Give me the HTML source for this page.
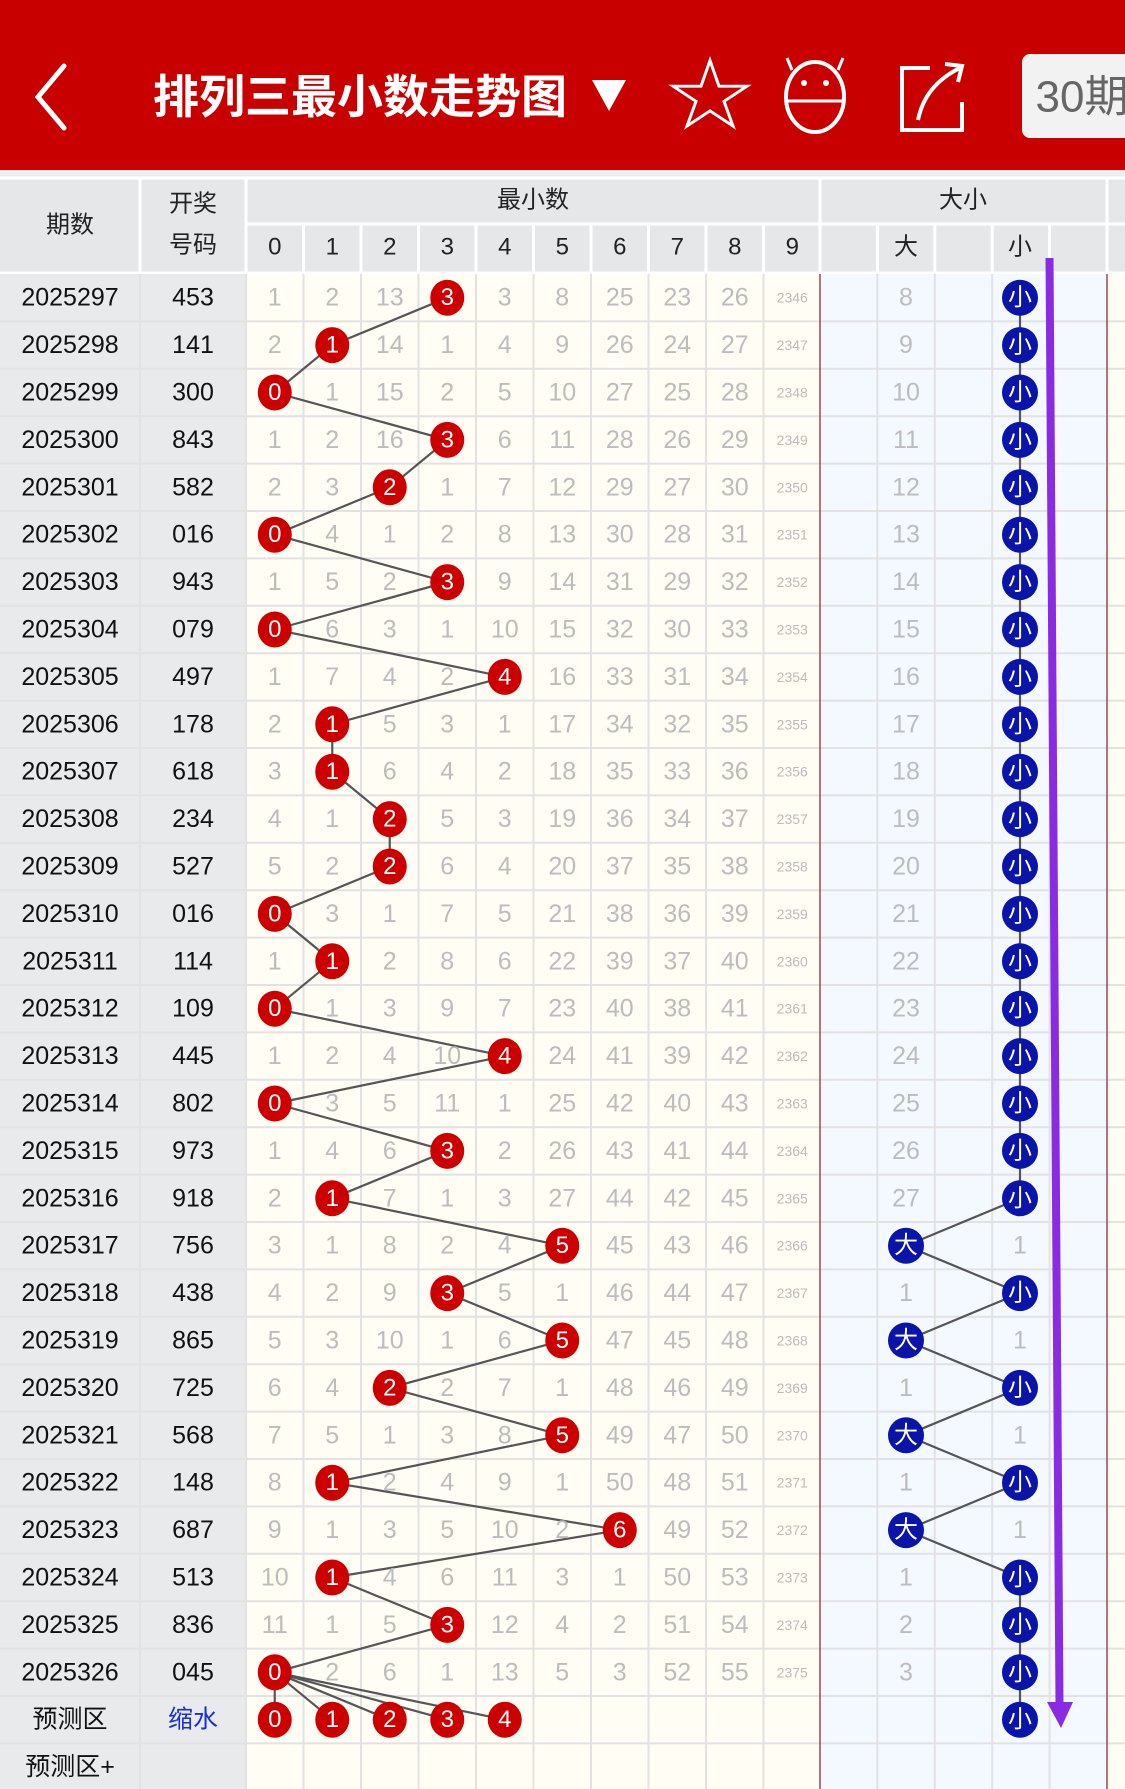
<!DOCTYPE html>
<html><head><meta charset="utf-8"><style>
html,body{margin:0;padding:0;width:1125px;height:1789px;overflow:hidden;background:#fff}
svg{display:block}
text{font-family:"Liberation Sans","Noto Sans CJK SC",sans-serif;dominant-baseline:central;text-anchor:middle}
.g{fill:#bcbcbc;font-size:25px}
.s{fill:#bcbcbc;font-size:14px}
.k{fill:#111;font-size:25px}
.w{fill:#fff;font-size:24px}
.h{fill:#222;font-size:24px}
</style></head><body>
<svg width="1125" height="1789" viewBox="0 0 1125 1789">
<rect x="0" y="0" width="1125" height="170" fill="#c80000"/>
<rect x="0" y="170" width="1125" height="8" fill="#eceded"/>
<!-- header icons -->
<polyline points="64,66 38,97 64,128" fill="none" stroke="#fff" stroke-width="5" stroke-linecap="round"/>
<text x="360" y="97" style="fill:#fff;font-size:46px;font-weight:bold;font-family:'Liberation Sans','Noto Sans CJK SC',sans-serif">排列三最小数走势图</text>
<polygon points="592,80 626,80 609,111" fill="#fff"/>
<polygon points="710,70 719,97 747,97 724,113 733,139 710,123 687,139 696,113 673,97 701,97" fill="none" stroke="#fff" stroke-width="3" transform="translate(0,-6) scale(1,0.95)"/>
<ellipse cx="815" cy="97" rx="29" ry="35" fill="none" stroke="#fff" stroke-width="4"/>
<line x1="787" y1="101" x2="843" y2="101" stroke="#fff" stroke-width="3"/>
<circle cx="804" cy="83" r="3" fill="#fff"/><circle cx="826" cy="83" r="3" fill="#fff"/>
<line x1="792" y1="70" x2="787" y2="58" stroke="#fff" stroke-width="3"/><line x1="838" y1="70" x2="843" y2="58" stroke="#fff" stroke-width="3"/>
<path d="M930,68 L902,68 L902,130 L962,130 L962,102" fill="none" stroke="#fff" stroke-width="4"/>
<path d="M918,120 Q925,85 960,68 M945,64 L962,66 L958,82" fill="none" stroke="#fff" stroke-width="4"/>
<rect x="1022" y="54" width="120" height="84" rx="8" fill="#f2f2f2"/>
<text x="1082" y="97" style="fill:#666;font-size:44px">30期</text>
<!-- table header -->
<rect x="0" y="178" width="1125" height="96" fill="#e6e7e9"/>
<g stroke="#fff" stroke-width="3">
<line x1="0" y1="178" x2="1125" y2="178"/>
<line x1="246" y1="224" x2="1125" y2="224"/>
<line x1="0" y1="273" x2="1125" y2="273"/>
<line x1="140" y1="178" x2="140" y2="273"/><line x1="246" y1="178" x2="246" y2="273"/>
<line x1="820" y1="178" x2="820" y2="273"/><line x1="1107" y1="178" x2="1107" y2="273"/>
<line x1="303.5" y1="224" x2="303.5" y2="273"/><line x1="361" y1="224" x2="361" y2="273"/><line x1="418.5" y1="224" x2="418.5" y2="273"/><line x1="476" y1="224" x2="476" y2="273"/><line x1="533.5" y1="224" x2="533.5" y2="273"/><line x1="591" y1="224" x2="591" y2="273"/><line x1="648.5" y1="224" x2="648.5" y2="273"/><line x1="706" y1="224" x2="706" y2="273"/><line x1="763.5" y1="224" x2="763.5" y2="273"/>
<line x1="877.4" y1="224" x2="877.4" y2="273"/><line x1="934.8" y1="224" x2="934.8" y2="273"/><line x1="992.2" y1="224" x2="992.2" y2="273"/><line x1="1049.6" y1="224" x2="1049.6" y2="273"/>
</g>
<text class="h" x="70" y="225">期数</text>
<text class="h" x="193" y="204">开奖</text>
<text class="h" x="193" y="245">号码</text>
<text class="h" x="533" y="200">最小数</text>
<text class="h" x="963" y="200">大小</text>
<g class="h"><text class="h" x="274.75" y="247">0</text><text class="h" x="332.25" y="247">1</text><text class="h" x="389.75" y="247">2</text><text class="h" x="447.25" y="247">3</text><text class="h" x="504.75" y="247">4</text><text class="h" x="562.25" y="247">5</text><text class="h" x="619.75" y="247">6</text><text class="h" x="677.25" y="247">7</text><text class="h" x="734.75" y="247">8</text><text class="h" x="792.25" y="247">9</text><text class="h" x="906" y="247">大</text><text class="h" x="1020" y="247">小</text></g>
<!-- body backgrounds -->
<rect x="0" y="274" width="246" height="1515" fill="#e9eaec"/>
<rect x="246" y="274" width="574" height="1515" fill="#fffdf4"/>
<rect x="820" y="274" width="287" height="1515" fill="#f4f9ff"/>
<rect x="1107" y="274" width="18" height="1515" fill="#fffdf4"/>
<g stroke="#e2e2e2" stroke-width="2">
<line x1="140" y1="274" x2="140" y2="1789"/><line x1="246" y1="274" x2="246" y2="1789"/>
<line x1="303.5" y1="274" x2="303.5" y2="1789"/><line x1="361" y1="274" x2="361" y2="1789"/><line x1="418.5" y1="274" x2="418.5" y2="1789"/><line x1="476" y1="274" x2="476" y2="1789"/><line x1="533.5" y1="274" x2="533.5" y2="1789"/><line x1="591" y1="274" x2="591" y2="1789"/><line x1="648.5" y1="274" x2="648.5" y2="1789"/><line x1="706" y1="274" x2="706" y2="1789"/><line x1="763.5" y1="274" x2="763.5" y2="1789"/>
<line x1="877.4" y1="274" x2="877.4" y2="1789"/><line x1="934.8" y1="274" x2="934.8" y2="1789"/><line x1="992.2" y1="274" x2="992.2" y2="1789"/><line x1="1049.6" y1="274" x2="1049.6" y2="1789"/>
<line x1="0" y1="321.4" x2="1125" y2="321.4"/><line x1="0" y1="368.8" x2="1125" y2="368.8"/><line x1="0" y1="416.2" x2="1125" y2="416.2"/><line x1="0" y1="463.6" x2="1125" y2="463.6"/><line x1="0" y1="511" x2="1125" y2="511"/><line x1="0" y1="558.4" x2="1125" y2="558.4"/><line x1="0" y1="605.8" x2="1125" y2="605.8"/><line x1="0" y1="653.2" x2="1125" y2="653.2"/><line x1="0" y1="700.6" x2="1125" y2="700.6"/><line x1="0" y1="748" x2="1125" y2="748"/><line x1="0" y1="795.4" x2="1125" y2="795.4"/><line x1="0" y1="842.8" x2="1125" y2="842.8"/><line x1="0" y1="890.2" x2="1125" y2="890.2"/><line x1="0" y1="937.6" x2="1125" y2="937.6"/><line x1="0" y1="985" x2="1125" y2="985"/><line x1="0" y1="1032.4" x2="1125" y2="1032.4"/><line x1="0" y1="1079.8" x2="1125" y2="1079.8"/><line x1="0" y1="1127.2" x2="1125" y2="1127.2"/><line x1="0" y1="1174.6" x2="1125" y2="1174.6"/><line x1="0" y1="1222" x2="1125" y2="1222"/><line x1="0" y1="1269.4" x2="1125" y2="1269.4"/><line x1="0" y1="1316.8" x2="1125" y2="1316.8"/><line x1="0" y1="1364.2" x2="1125" y2="1364.2"/><line x1="0" y1="1411.6" x2="1125" y2="1411.6"/><line x1="0" y1="1459" x2="1125" y2="1459"/><line x1="0" y1="1506.4" x2="1125" y2="1506.4"/><line x1="0" y1="1553.8" x2="1125" y2="1553.8"/><line x1="0" y1="1601.2" x2="1125" y2="1601.2"/><line x1="0" y1="1648.6" x2="1125" y2="1648.6"/><line x1="0" y1="1696" x2="1125" y2="1696"/><line x1="0" y1="1743.4" x2="1125" y2="1743.4"/>
</g>
<line x1="820" y1="274" x2="820" y2="1789" stroke="#a04848" stroke-width="1.5"/>
<line x1="1107" y1="274" x2="1107" y2="1789" stroke="#a04848" stroke-width="1.5"/>
<!-- series lines -->
<polyline fill="none" stroke="#555" stroke-width="2.2" points="447.25,297.7 332.25,345.1 274.75,392.5 447.25,439.9 389.75,487.3 274.75,534.7 447.25,582.1 274.75,629.5 504.75,676.9 332.25,724.3 332.25,771.7 389.75,819.1 389.75,866.5 274.75,913.9 332.25,961.3 274.75,1008.7 504.75,1056.1 274.75,1103.5 447.25,1150.9 332.25,1198.3 562.25,1245.7 447.25,1293.1 562.25,1340.5 389.75,1387.9 562.25,1435.3 332.25,1482.7 619.75,1530.1 332.25,1577.5 447.25,1624.9 274.75,1672.3"/>
<g stroke="#555" stroke-width="2.2"><line x1="274.75" y1="1672.3" x2="274.75" y2="1719.7"/><line x1="274.75" y1="1672.3" x2="332.25" y2="1719.7"/><line x1="274.75" y1="1672.3" x2="389.75" y2="1719.7"/><line x1="274.75" y1="1672.3" x2="447.25" y2="1719.7"/><line x1="274.75" y1="1672.3" x2="504.75" y2="1719.7"/></g>
<polyline fill="none" stroke="#555" stroke-width="2.2" points="1020,297.7 1020,1198.3 906,1245.7 1020,1293.1 906,1340.5 1020,1387.9 906,1435.3 1020,1482.7 906,1530.1 1020,1577.5 1020,1719.7"/>
<!-- rows -->
<g transform="translate(0,297.7)"><text class="k" x="70">2025297</text><text class="k" x="193">453</text><text class="g" x="274.75">1</text><text class="g" x="332.25">2</text><text class="g" x="389.75">13</text><text class="g" x="504.75">3</text><text class="g" x="562.25">8</text><text class="g" x="619.75">25</text><text class="g" x="677.25">23</text><text class="g" x="734.75">26</text><text class="s" x="792.25">2346</text><text class="g" x="906">8</text></g>
<g transform="translate(0,345.1)"><text class="k" x="70">2025298</text><text class="k" x="193">141</text><text class="g" x="274.75">2</text><text class="g" x="389.75">14</text><text class="g" x="447.25">1</text><text class="g" x="504.75">4</text><text class="g" x="562.25">9</text><text class="g" x="619.75">26</text><text class="g" x="677.25">24</text><text class="g" x="734.75">27</text><text class="s" x="792.25">2347</text><text class="g" x="906">9</text></g>
<g transform="translate(0,392.5)"><text class="k" x="70">2025299</text><text class="k" x="193">300</text><text class="g" x="332.25">1</text><text class="g" x="389.75">15</text><text class="g" x="447.25">2</text><text class="g" x="504.75">5</text><text class="g" x="562.25">10</text><text class="g" x="619.75">27</text><text class="g" x="677.25">25</text><text class="g" x="734.75">28</text><text class="s" x="792.25">2348</text><text class="g" x="906">10</text></g>
<g transform="translate(0,439.9)"><text class="k" x="70">2025300</text><text class="k" x="193">843</text><text class="g" x="274.75">1</text><text class="g" x="332.25">2</text><text class="g" x="389.75">16</text><text class="g" x="504.75">6</text><text class="g" x="562.25">11</text><text class="g" x="619.75">28</text><text class="g" x="677.25">26</text><text class="g" x="734.75">29</text><text class="s" x="792.25">2349</text><text class="g" x="906">11</text></g>
<g transform="translate(0,487.3)"><text class="k" x="70">2025301</text><text class="k" x="193">582</text><text class="g" x="274.75">2</text><text class="g" x="332.25">3</text><text class="g" x="447.25">1</text><text class="g" x="504.75">7</text><text class="g" x="562.25">12</text><text class="g" x="619.75">29</text><text class="g" x="677.25">27</text><text class="g" x="734.75">30</text><text class="s" x="792.25">2350</text><text class="g" x="906">12</text></g>
<g transform="translate(0,534.7)"><text class="k" x="70">2025302</text><text class="k" x="193">016</text><text class="g" x="332.25">4</text><text class="g" x="389.75">1</text><text class="g" x="447.25">2</text><text class="g" x="504.75">8</text><text class="g" x="562.25">13</text><text class="g" x="619.75">30</text><text class="g" x="677.25">28</text><text class="g" x="734.75">31</text><text class="s" x="792.25">2351</text><text class="g" x="906">13</text></g>
<g transform="translate(0,582.1)"><text class="k" x="70">2025303</text><text class="k" x="193">943</text><text class="g" x="274.75">1</text><text class="g" x="332.25">5</text><text class="g" x="389.75">2</text><text class="g" x="504.75">9</text><text class="g" x="562.25">14</text><text class="g" x="619.75">31</text><text class="g" x="677.25">29</text><text class="g" x="734.75">32</text><text class="s" x="792.25">2352</text><text class="g" x="906">14</text></g>
<g transform="translate(0,629.5)"><text class="k" x="70">2025304</text><text class="k" x="193">079</text><text class="g" x="332.25">6</text><text class="g" x="389.75">3</text><text class="g" x="447.25">1</text><text class="g" x="504.75">10</text><text class="g" x="562.25">15</text><text class="g" x="619.75">32</text><text class="g" x="677.25">30</text><text class="g" x="734.75">33</text><text class="s" x="792.25">2353</text><text class="g" x="906">15</text></g>
<g transform="translate(0,676.9)"><text class="k" x="70">2025305</text><text class="k" x="193">497</text><text class="g" x="274.75">1</text><text class="g" x="332.25">7</text><text class="g" x="389.75">4</text><text class="g" x="447.25">2</text><text class="g" x="562.25">16</text><text class="g" x="619.75">33</text><text class="g" x="677.25">31</text><text class="g" x="734.75">34</text><text class="s" x="792.25">2354</text><text class="g" x="906">16</text></g>
<g transform="translate(0,724.3)"><text class="k" x="70">2025306</text><text class="k" x="193">178</text><text class="g" x="274.75">2</text><text class="g" x="389.75">5</text><text class="g" x="447.25">3</text><text class="g" x="504.75">1</text><text class="g" x="562.25">17</text><text class="g" x="619.75">34</text><text class="g" x="677.25">32</text><text class="g" x="734.75">35</text><text class="s" x="792.25">2355</text><text class="g" x="906">17</text></g>
<g transform="translate(0,771.7)"><text class="k" x="70">2025307</text><text class="k" x="193">618</text><text class="g" x="274.75">3</text><text class="g" x="389.75">6</text><text class="g" x="447.25">4</text><text class="g" x="504.75">2</text><text class="g" x="562.25">18</text><text class="g" x="619.75">35</text><text class="g" x="677.25">33</text><text class="g" x="734.75">36</text><text class="s" x="792.25">2356</text><text class="g" x="906">18</text></g>
<g transform="translate(0,819.1)"><text class="k" x="70">2025308</text><text class="k" x="193">234</text><text class="g" x="274.75">4</text><text class="g" x="332.25">1</text><text class="g" x="447.25">5</text><text class="g" x="504.75">3</text><text class="g" x="562.25">19</text><text class="g" x="619.75">36</text><text class="g" x="677.25">34</text><text class="g" x="734.75">37</text><text class="s" x="792.25">2357</text><text class="g" x="906">19</text></g>
<g transform="translate(0,866.5)"><text class="k" x="70">2025309</text><text class="k" x="193">527</text><text class="g" x="274.75">5</text><text class="g" x="332.25">2</text><text class="g" x="447.25">6</text><text class="g" x="504.75">4</text><text class="g" x="562.25">20</text><text class="g" x="619.75">37</text><text class="g" x="677.25">35</text><text class="g" x="734.75">38</text><text class="s" x="792.25">2358</text><text class="g" x="906">20</text></g>
<g transform="translate(0,913.9)"><text class="k" x="70">2025310</text><text class="k" x="193">016</text><text class="g" x="332.25">3</text><text class="g" x="389.75">1</text><text class="g" x="447.25">7</text><text class="g" x="504.75">5</text><text class="g" x="562.25">21</text><text class="g" x="619.75">38</text><text class="g" x="677.25">36</text><text class="g" x="734.75">39</text><text class="s" x="792.25">2359</text><text class="g" x="906">21</text></g>
<g transform="translate(0,961.3)"><text class="k" x="70">2025311</text><text class="k" x="193">114</text><text class="g" x="274.75">1</text><text class="g" x="389.75">2</text><text class="g" x="447.25">8</text><text class="g" x="504.75">6</text><text class="g" x="562.25">22</text><text class="g" x="619.75">39</text><text class="g" x="677.25">37</text><text class="g" x="734.75">40</text><text class="s" x="792.25">2360</text><text class="g" x="906">22</text></g>
<g transform="translate(0,1008.7)"><text class="k" x="70">2025312</text><text class="k" x="193">109</text><text class="g" x="332.25">1</text><text class="g" x="389.75">3</text><text class="g" x="447.25">9</text><text class="g" x="504.75">7</text><text class="g" x="562.25">23</text><text class="g" x="619.75">40</text><text class="g" x="677.25">38</text><text class="g" x="734.75">41</text><text class="s" x="792.25">2361</text><text class="g" x="906">23</text></g>
<g transform="translate(0,1056.1)"><text class="k" x="70">2025313</text><text class="k" x="193">445</text><text class="g" x="274.75">1</text><text class="g" x="332.25">2</text><text class="g" x="389.75">4</text><text class="g" x="447.25">10</text><text class="g" x="562.25">24</text><text class="g" x="619.75">41</text><text class="g" x="677.25">39</text><text class="g" x="734.75">42</text><text class="s" x="792.25">2362</text><text class="g" x="906">24</text></g>
<g transform="translate(0,1103.5)"><text class="k" x="70">2025314</text><text class="k" x="193">802</text><text class="g" x="332.25">3</text><text class="g" x="389.75">5</text><text class="g" x="447.25">11</text><text class="g" x="504.75">1</text><text class="g" x="562.25">25</text><text class="g" x="619.75">42</text><text class="g" x="677.25">40</text><text class="g" x="734.75">43</text><text class="s" x="792.25">2363</text><text class="g" x="906">25</text></g>
<g transform="translate(0,1150.9)"><text class="k" x="70">2025315</text><text class="k" x="193">973</text><text class="g" x="274.75">1</text><text class="g" x="332.25">4</text><text class="g" x="389.75">6</text><text class="g" x="504.75">2</text><text class="g" x="562.25">26</text><text class="g" x="619.75">43</text><text class="g" x="677.25">41</text><text class="g" x="734.75">44</text><text class="s" x="792.25">2364</text><text class="g" x="906">26</text></g>
<g transform="translate(0,1198.3)"><text class="k" x="70">2025316</text><text class="k" x="193">918</text><text class="g" x="274.75">2</text><text class="g" x="389.75">7</text><text class="g" x="447.25">1</text><text class="g" x="504.75">3</text><text class="g" x="562.25">27</text><text class="g" x="619.75">44</text><text class="g" x="677.25">42</text><text class="g" x="734.75">45</text><text class="s" x="792.25">2365</text><text class="g" x="906">27</text></g>
<g transform="translate(0,1245.7)"><text class="k" x="70">2025317</text><text class="k" x="193">756</text><text class="g" x="274.75">3</text><text class="g" x="332.25">1</text><text class="g" x="389.75">8</text><text class="g" x="447.25">2</text><text class="g" x="504.75">4</text><text class="g" x="619.75">45</text><text class="g" x="677.25">43</text><text class="g" x="734.75">46</text><text class="s" x="792.25">2366</text><text class="g" x="1020">1</text></g>
<g transform="translate(0,1293.1)"><text class="k" x="70">2025318</text><text class="k" x="193">438</text><text class="g" x="274.75">4</text><text class="g" x="332.25">2</text><text class="g" x="389.75">9</text><text class="g" x="504.75">5</text><text class="g" x="562.25">1</text><text class="g" x="619.75">46</text><text class="g" x="677.25">44</text><text class="g" x="734.75">47</text><text class="s" x="792.25">2367</text><text class="g" x="906">1</text></g>
<g transform="translate(0,1340.5)"><text class="k" x="70">2025319</text><text class="k" x="193">865</text><text class="g" x="274.75">5</text><text class="g" x="332.25">3</text><text class="g" x="389.75">10</text><text class="g" x="447.25">1</text><text class="g" x="504.75">6</text><text class="g" x="619.75">47</text><text class="g" x="677.25">45</text><text class="g" x="734.75">48</text><text class="s" x="792.25">2368</text><text class="g" x="1020">1</text></g>
<g transform="translate(0,1387.9)"><text class="k" x="70">2025320</text><text class="k" x="193">725</text><text class="g" x="274.75">6</text><text class="g" x="332.25">4</text><text class="g" x="447.25">2</text><text class="g" x="504.75">7</text><text class="g" x="562.25">1</text><text class="g" x="619.75">48</text><text class="g" x="677.25">46</text><text class="g" x="734.75">49</text><text class="s" x="792.25">2369</text><text class="g" x="906">1</text></g>
<g transform="translate(0,1435.3)"><text class="k" x="70">2025321</text><text class="k" x="193">568</text><text class="g" x="274.75">7</text><text class="g" x="332.25">5</text><text class="g" x="389.75">1</text><text class="g" x="447.25">3</text><text class="g" x="504.75">8</text><text class="g" x="619.75">49</text><text class="g" x="677.25">47</text><text class="g" x="734.75">50</text><text class="s" x="792.25">2370</text><text class="g" x="1020">1</text></g>
<g transform="translate(0,1482.7)"><text class="k" x="70">2025322</text><text class="k" x="193">148</text><text class="g" x="274.75">8</text><text class="g" x="389.75">2</text><text class="g" x="447.25">4</text><text class="g" x="504.75">9</text><text class="g" x="562.25">1</text><text class="g" x="619.75">50</text><text class="g" x="677.25">48</text><text class="g" x="734.75">51</text><text class="s" x="792.25">2371</text><text class="g" x="906">1</text></g>
<g transform="translate(0,1530.1)"><text class="k" x="70">2025323</text><text class="k" x="193">687</text><text class="g" x="274.75">9</text><text class="g" x="332.25">1</text><text class="g" x="389.75">3</text><text class="g" x="447.25">5</text><text class="g" x="504.75">10</text><text class="g" x="562.25">2</text><text class="g" x="677.25">49</text><text class="g" x="734.75">52</text><text class="s" x="792.25">2372</text><text class="g" x="1020">1</text></g>
<g transform="translate(0,1577.5)"><text class="k" x="70">2025324</text><text class="k" x="193">513</text><text class="g" x="274.75">10</text><text class="g" x="389.75">4</text><text class="g" x="447.25">6</text><text class="g" x="504.75">11</text><text class="g" x="562.25">3</text><text class="g" x="619.75">1</text><text class="g" x="677.25">50</text><text class="g" x="734.75">53</text><text class="s" x="792.25">2373</text><text class="g" x="906">1</text></g>
<g transform="translate(0,1624.9)"><text class="k" x="70">2025325</text><text class="k" x="193">836</text><text class="g" x="274.75">11</text><text class="g" x="332.25">1</text><text class="g" x="389.75">5</text><text class="g" x="504.75">12</text><text class="g" x="562.25">4</text><text class="g" x="619.75">2</text><text class="g" x="677.25">51</text><text class="g" x="734.75">54</text><text class="s" x="792.25">2374</text><text class="g" x="906">2</text></g>
<g transform="translate(0,1672.3)"><text class="k" x="70">2025326</text><text class="k" x="193">045</text><text class="g" x="332.25">2</text><text class="g" x="389.75">6</text><text class="g" x="447.25">1</text><text class="g" x="504.75">13</text><text class="g" x="562.25">5</text><text class="g" x="619.75">3</text><text class="g" x="677.25">52</text><text class="g" x="734.75">55</text><text class="s" x="792.25">2375</text><text class="g" x="906">3</text></g>
<g transform="translate(0,1719.7)"><text class="k" x="70">预测区</text><text class="k" x="193" style="fill:#1a2fd0">缩水</text></g>
<g transform="translate(0,1767.1)"><text class="k" x="70">预测区+</text></g>
<!-- red circles -->
<g fill="#cc0000">
<ellipse cx="447.25" cy="297.7" rx="17" ry="18"/><ellipse cx="332.25" cy="345.1" rx="17" ry="18"/><ellipse cx="274.75" cy="392.5" rx="17" ry="18"/><ellipse cx="447.25" cy="439.9" rx="17" ry="18"/><ellipse cx="389.75" cy="487.3" rx="17" ry="18"/><ellipse cx="274.75" cy="534.7" rx="17" ry="18"/><ellipse cx="447.25" cy="582.1" rx="17" ry="18"/><ellipse cx="274.75" cy="629.5" rx="17" ry="18"/><ellipse cx="504.75" cy="676.9" rx="17" ry="18"/><ellipse cx="332.25" cy="724.3" rx="17" ry="18"/><ellipse cx="332.25" cy="771.7" rx="17" ry="18"/><ellipse cx="389.75" cy="819.1" rx="17" ry="18"/><ellipse cx="389.75" cy="866.5" rx="17" ry="18"/><ellipse cx="274.75" cy="913.9" rx="17" ry="18"/><ellipse cx="332.25" cy="961.3" rx="17" ry="18"/><ellipse cx="274.75" cy="1008.7" rx="17" ry="18"/><ellipse cx="504.75" cy="1056.1" rx="17" ry="18"/><ellipse cx="274.75" cy="1103.5" rx="17" ry="18"/><ellipse cx="447.25" cy="1150.9" rx="17" ry="18"/><ellipse cx="332.25" cy="1198.3" rx="17" ry="18"/><ellipse cx="562.25" cy="1245.7" rx="17" ry="18"/><ellipse cx="447.25" cy="1293.1" rx="17" ry="18"/><ellipse cx="562.25" cy="1340.5" rx="17" ry="18"/><ellipse cx="389.75" cy="1387.9" rx="17" ry="18"/><ellipse cx="562.25" cy="1435.3" rx="17" ry="18"/><ellipse cx="332.25" cy="1482.7" rx="17" ry="18"/><ellipse cx="619.75" cy="1530.1" rx="17" ry="18"/><ellipse cx="332.25" cy="1577.5" rx="17" ry="18"/><ellipse cx="447.25" cy="1624.9" rx="17" ry="18"/><ellipse cx="274.75" cy="1672.3" rx="17" ry="18"/>
<ellipse cx="274.75" cy="1719.7" rx="17" ry="18"/><ellipse cx="332.25" cy="1719.7" rx="17" ry="18"/><ellipse cx="389.75" cy="1719.7" rx="17" ry="18"/><ellipse cx="447.25" cy="1719.7" rx="17" ry="18"/><ellipse cx="504.75" cy="1719.7" rx="17" ry="18"/>
</g>
<g class="w">
<text class="w" x="447.25" y="297.7">3</text><text class="w" x="332.25" y="345.1">1</text><text class="w" x="274.75" y="392.5">0</text><text class="w" x="447.25" y="439.9">3</text><text class="w" x="389.75" y="487.3">2</text><text class="w" x="274.75" y="534.7">0</text><text class="w" x="447.25" y="582.1">3</text><text class="w" x="274.75" y="629.5">0</text><text class="w" x="504.75" y="676.9">4</text><text class="w" x="332.25" y="724.3">1</text><text class="w" x="332.25" y="771.7">1</text><text class="w" x="389.75" y="819.1">2</text><text class="w" x="389.75" y="866.5">2</text><text class="w" x="274.75" y="913.9">0</text><text class="w" x="332.25" y="961.3">1</text><text class="w" x="274.75" y="1008.7">0</text><text class="w" x="504.75" y="1056.1">4</text><text class="w" x="274.75" y="1103.5">0</text><text class="w" x="447.25" y="1150.9">3</text><text class="w" x="332.25" y="1198.3">1</text><text class="w" x="562.25" y="1245.7">5</text><text class="w" x="447.25" y="1293.1">3</text><text class="w" x="562.25" y="1340.5">5</text><text class="w" x="389.75" y="1387.9">2</text><text class="w" x="562.25" y="1435.3">5</text><text class="w" x="332.25" y="1482.7">1</text><text class="w" x="619.75" y="1530.1">6</text><text class="w" x="332.25" y="1577.5">1</text><text class="w" x="447.25" y="1624.9">3</text><text class="w" x="274.75" y="1672.3">0</text>
<text class="w" x="274.75" y="1719.7">0</text><text class="w" x="332.25" y="1719.7">1</text><text class="w" x="389.75" y="1719.7">2</text><text class="w" x="447.25" y="1719.7">3</text><text class="w" x="504.75" y="1719.7">4</text>
</g>
<!-- blue circles -->
<g fill="#0a14a8">
<circle cx="1020" cy="297.7" r="18"/><circle cx="1020" cy="345.1" r="18"/><circle cx="1020" cy="392.5" r="18"/><circle cx="1020" cy="439.9" r="18"/><circle cx="1020" cy="487.3" r="18"/><circle cx="1020" cy="534.7" r="18"/><circle cx="1020" cy="582.1" r="18"/><circle cx="1020" cy="629.5" r="18"/><circle cx="1020" cy="676.9" r="18"/><circle cx="1020" cy="724.3" r="18"/><circle cx="1020" cy="771.7" r="18"/><circle cx="1020" cy="819.1" r="18"/><circle cx="1020" cy="866.5" r="18"/><circle cx="1020" cy="913.9" r="18"/><circle cx="1020" cy="961.3" r="18"/><circle cx="1020" cy="1008.7" r="18"/><circle cx="1020" cy="1056.1" r="18"/><circle cx="1020" cy="1103.5" r="18"/><circle cx="1020" cy="1150.9" r="18"/><circle cx="1020" cy="1198.3" r="18"/><circle cx="906" cy="1245.7" r="18"/><circle cx="1020" cy="1293.1" r="18"/><circle cx="906" cy="1340.5" r="18"/><circle cx="1020" cy="1387.9" r="18"/><circle cx="906" cy="1435.3" r="18"/><circle cx="1020" cy="1482.7" r="18"/><circle cx="906" cy="1530.1" r="18"/><circle cx="1020" cy="1577.5" r="18"/><circle cx="1020" cy="1624.9" r="18"/><circle cx="1020" cy="1672.3" r="18"/><circle cx="1020" cy="1719.7" r="18"/>
</g>
<g>
<text class="w" x="1020" y="297.7">小</text><text class="w" x="1020" y="345.1">小</text><text class="w" x="1020" y="392.5">小</text><text class="w" x="1020" y="439.9">小</text><text class="w" x="1020" y="487.3">小</text><text class="w" x="1020" y="534.7">小</text><text class="w" x="1020" y="582.1">小</text><text class="w" x="1020" y="629.5">小</text><text class="w" x="1020" y="676.9">小</text><text class="w" x="1020" y="724.3">小</text><text class="w" x="1020" y="771.7">小</text><text class="w" x="1020" y="819.1">小</text><text class="w" x="1020" y="866.5">小</text><text class="w" x="1020" y="913.9">小</text><text class="w" x="1020" y="961.3">小</text><text class="w" x="1020" y="1008.7">小</text><text class="w" x="1020" y="1056.1">小</text><text class="w" x="1020" y="1103.5">小</text><text class="w" x="1020" y="1150.9">小</text><text class="w" x="1020" y="1198.3">小</text><text class="w" x="906" y="1245.7">大</text><text class="w" x="1020" y="1293.1">小</text><text class="w" x="906" y="1340.5">大</text><text class="w" x="1020" y="1387.9">小</text><text class="w" x="906" y="1435.3">大</text><text class="w" x="1020" y="1482.7">小</text><text class="w" x="906" y="1530.1">大</text><text class="w" x="1020" y="1577.5">小</text><text class="w" x="1020" y="1624.9">小</text><text class="w" x="1020" y="1672.3">小</text><text class="w" x="1020" y="1719.7">小</text>
</g>
<!-- purple arrow -->
<line x1="1049.5" y1="258" x2="1059.5" y2="1705" stroke="#8a2be2" stroke-width="8"/>
<polygon points="1047,1702 1073,1702 1061,1728" fill="#8a2be2"/>
</svg>
</body></html>
